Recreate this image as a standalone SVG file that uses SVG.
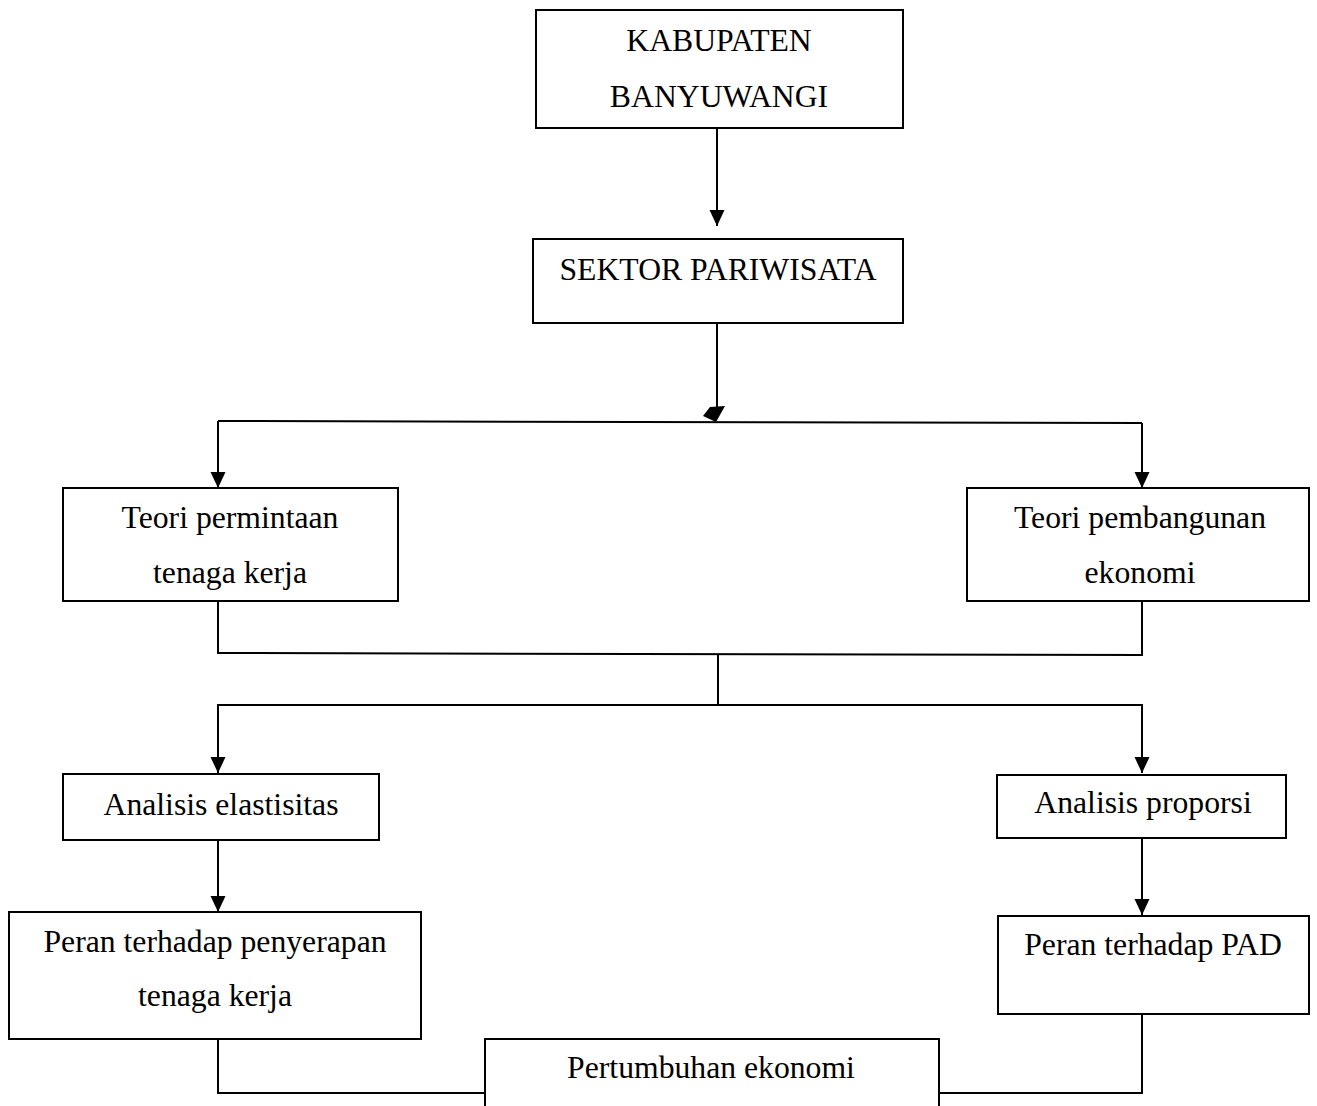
<svg xmlns="http://www.w3.org/2000/svg" width="1317" height="1106" viewBox="0 0 1317 1106">
<defs>
<style>
.box{fill:#fff;stroke:#000;stroke-width:2}
.ln{fill:none;stroke:#000;stroke-width:2}
text{font-family:"Liberation Serif","Times New Roman",serif;font-size:31.7px;fill:#000;text-anchor:middle}
</style>
<marker id="ah" markerUnits="userSpaceOnUse" markerWidth="16" markerHeight="16" refX="16" refY="7.5" orient="auto">
<path d="M0,0 L16,7.5 L0,15 z" fill="#000"/>
</marker>
</defs>
<rect width="1317" height="1106" fill="#fff"/>
<g id="connectors">
<line class="ln" x1="717" y1="128" x2="717" y2="226" marker-end="url(#ah)"/>
<line class="ln" x1="717" y1="323" x2="717" y2="410"/>
<polygon points="703,416 710,407 725,406 716,422" fill="#000"/>
<polyline class="ln" points="218,421 1142,423"/>
<line class="ln" x1="218" y1="421" x2="218" y2="488" marker-end="url(#ah)"/>
<line class="ln" x1="1142" y1="423" x2="1142" y2="488" marker-end="url(#ah)"/>
<polyline class="ln" points="218,601 218,653 1142,655 1142,601"/>
<line class="ln" x1="718" y1="654" x2="718" y2="705"/>
<polyline class="ln" points="218,773 218,705 1142,705 1142,773" marker-end="url(#ah)" marker-start="none"/>
<line class="ln" x1="218" y1="705" x2="218" y2="773" marker-end="url(#ah)"/>
<line class="ln" x1="218" y1="840" x2="218" y2="912" marker-end="url(#ah)"/>
<line class="ln" x1="1142" y1="838" x2="1142" y2="915" marker-end="url(#ah)"/>
<polyline class="ln" points="218,1039 218,1093 485,1093"/>
<polyline class="ln" points="1142,1014 1142,1093 939,1093"/>
</g>
<g id="n1"><rect class="box" x="536" y="10" width="367" height="118"/><text x="719" y="51">KABUPATEN</text><text x="719" y="107">BANYUWANGI</text></g>
<g id="n2"><rect class="box" x="533" y="239" width="370" height="84"/><text x="718" y="280">SEKTOR PARIWISATA</text></g>
<g id="n3"><rect class="box" x="63" y="488" width="335" height="113"/><text x="230" y="528">Teori permintaan</text><text x="230" y="583">tenaga kerja</text></g>
<g id="n4"><rect class="box" x="967" y="488" width="342" height="113"/><text x="1140" y="528">Teori pembangunan</text><text x="1140" y="583">ekonomi</text></g>
<g id="n5"><rect class="box" x="63" y="774" width="316" height="66"/><text x="221" y="815">Analisis elastisitas</text></g>
<g id="n6"><rect class="box" x="997" y="775" width="289" height="63"/><text x="1143" y="813">Analisis proporsi</text></g>
<g id="n7"><rect class="box" x="9" y="912" width="412" height="127"/><text x="215" y="952">Peran terhadap penyerapan</text><text x="215" y="1006">tenaga kerja</text></g>
<g id="n8"><rect class="box" x="998" y="916" width="311" height="98"/><text x="1153" y="955">Peran terhadap PAD</text></g>
<g id="n9"><rect class="box" x="485" y="1039" width="454" height="90"/><text x="711" y="1078">Pertumbuhan ekonomi</text></g>
</svg>
